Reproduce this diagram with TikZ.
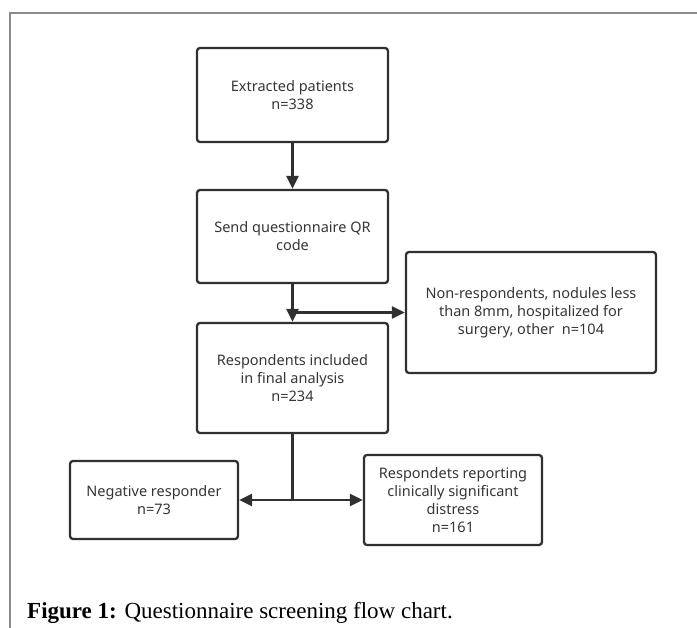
\documentclass[tikz,border=0pt]{standalone}
\usepackage{fontspec}
\setmainfont{Noto Sans}
\newfontfamily\capfont{Liberation Serif}
\usetikzlibrary{arrows.meta}
\definecolor{boxline}{HTML}{303030}
\definecolor{txt}{HTML}{363636}
\definecolor{frame}{HTML}{8A8A8A}
\begin{document}
\begin{tikzpicture}[x=1pt,y=-1pt,
  box/.style={draw=boxline,line width=2.3pt,rounded corners=3pt,align=center,
    inner sep=0pt,text=txt,font=\fontsize{14.5}{18}\selectfont},
  conn/.style={draw=boxline,line width=2.3pt},
  arr/.style={conn,-{Triangle[length=13pt,width=12pt]}}]
\useasboundingbox (0,0) rectangle (697,628);
\fill[white] (0,0) rectangle (697,628);
\draw[frame,line width=1.2pt] (10,628) -- (10,13) -- (697,13);
\node[box,minimum width=191pt,minimum height=94pt] (b1) at (292.5,95) {Extracted patients\\n=338};
\node[box,minimum width=191pt,minimum height=93pt] (b2) at (292.5,236.5) {Send questionnaire QR\\code};
\node[box,minimum width=191pt,minimum height=110pt] (b3) at (292.5,378) {Respondents included\\in final analysis\\n=234};
\node[box,minimum width=250pt,minimum height=121pt] (nr) at (531,312.5) {Non-respondents, nodules less\\than 8mm, hospitalized for\\surgery, other\ \ n=104};
\node[box,minimum width=168pt,minimum height=78pt] (neg) at (154,500) {Negative responder\\n=73};
\node[box,minimum width=178pt,minimum height=90pt] (pos) at (453,500) {Respondets reporting\\clinically significant\\distress\\n=161};
\coordinate (br) at (292.5,312.5);
\coordinate (sp) at (292.5,500);
\draw[arr] (b1) -- (b2);
\draw[arr] (b2) -- (b3);
\draw[arr] (br) -- (nr.west);
\draw[conn] (b3.south) -- (sp);
\draw[arr] (sp) -- (neg.east);
\draw[arr] (sp) -- (pos.west);
\node[anchor=base west,inner sep=0pt,font=\capfont\fontsize{23}{26}\selectfont] (cap) at (27,618)
  {\textbf{Figure 1:} Questionnaire screening flow chart.};
\end{tikzpicture}
\end{document}
